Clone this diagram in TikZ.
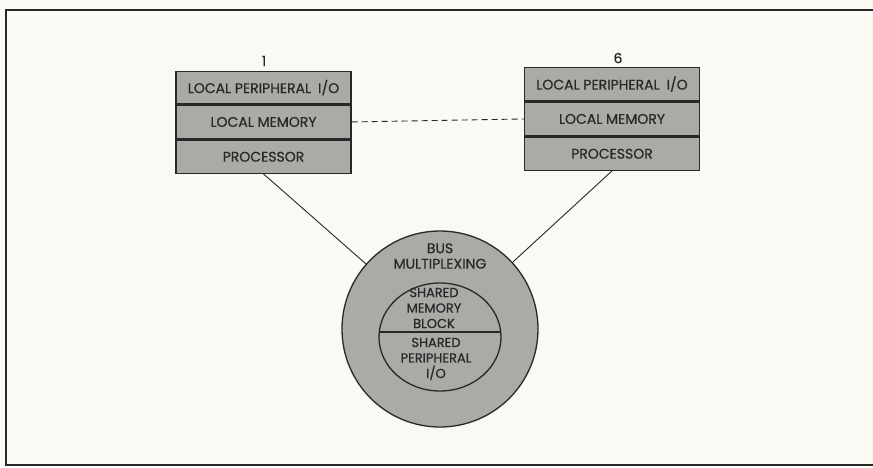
\documentclass[tikz,border=0pt]{standalone}
\usepackage{fontspec}
\setmainfont{Poppins}[FakeBold=0.6]
\usetikzlibrary{shapes.geometric}
\definecolor{paper}{RGB}{250,249,243}
\definecolor{shade}{RGB}{170,170,166}
\definecolor{ink}{RGB}{40,40,40}
\begin{document}
\begin{tikzpicture}[x=1pt,y=-1pt,
  cell/.style={draw=ink,line width=1.3pt,fill=shade,minimum width=175pt,inner sep=0pt,
    font=\fontsize{14}{15}\selectfont,text=ink,anchor=north},
  lbl/.style={font=\fontsize{14}{15.5}\selectfont,text=ink,align=center,inner sep=0pt},
  inlbl/.style={font=\fontsize{13}{15.5}\selectfont,text=ink,align=center,inner sep=0pt},
  link/.style={draw=ink,line width=0.9pt}]
\fill[paper] (0,0) rectangle (873,467);
\useasboundingbox (0,0) rectangle (873,467);
\draw[ink,line width=2pt] (873,10) -- (6,10) -- (6,465) -- (873,465);
% left box
\node[cell,minimum height=32pt] (lio) at (263.5,71) {LOCAL PERIPHERAL\enspace I/O};
\node[cell,minimum height=34pt] (lmem) at (lio.south) {LOCAL MEMORY};
\node[cell,minimum height=33pt] (lproc) at (lmem.south) {PROCESSOR};
\node[lbl] (n1) at (264,61) {1};
% right box
\node[cell,minimum height=33pt] (rio) at (612,67) {LOCAL PERIPHERAL\enspace I/O};
\node[cell,minimum height=34pt] (rmem) at (rio.south) {LOCAL MEMORY};
\node[cell,minimum height=33pt] (rproc) at (rmem.south) {PROCESSOR};
\node[lbl] (n6) at (618,58) {6};
% circle
\node[circle,draw=ink,line width=1.3pt,fill=shade,minimum size=196pt,inner sep=0pt] (bus) at (440,329) {};
\node[ellipse,draw=ink,line width=1.3pt,minimum width=122pt,minimum height=108pt,inner sep=0pt] (blk) at (440,337) {};
\draw[ink,line width=1.3pt] (379.3,332) -- (500.7,332);
\node[lbl] (busl) at (440,256) {BUS\\MULTIPLEXING};
\node[inlbl] (meml) at (434,308) {SHARED\\MEMORY\\BLOCK};
\node[inlbl] (perl) at (436,359) {SHARED\\PERIPHERAL\\I/O};
% connectors
\draw[link] (lproc.south) -- (bus);
\draw[link] (rproc.south) -- (bus);
\draw[link,dash pattern=on 6pt off 4pt] (lmem.east) -- (rmem.west);
\end{tikzpicture}
\end{document}
